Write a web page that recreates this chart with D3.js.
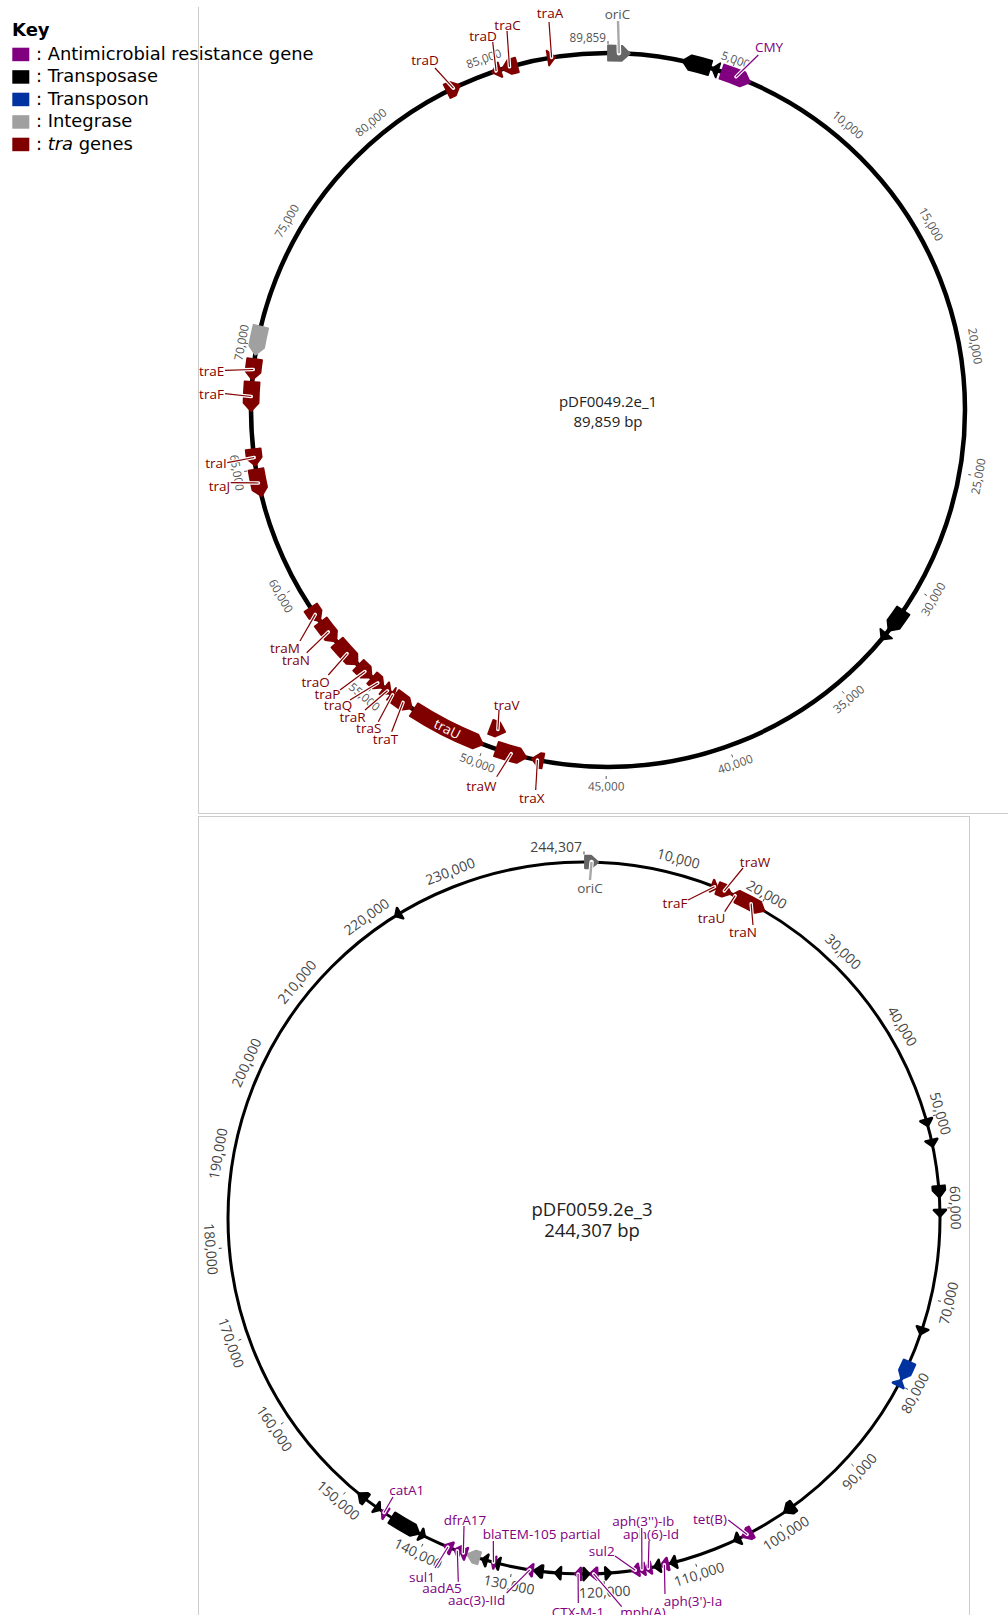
<!DOCTYPE html>
<html><head><meta charset="utf-8">
<script src="https://cdn.jsdelivr.net/npm/d3@7"></script>
<style>body{margin:0;background:#fff;} svg{display:block;}</style>
</head><body>
<svg id="chart" width="1008" height="1615"></svg>
<script>
// ---------------- DATA ----------------
const legendKeys   = ["amr", "tpase", "tn", "int", "tra"];
const legendLabels = ["Antimicrobial resistance gene", "Transposase", "Transposon", "Integrase", "tra genes"];

const plasmid1Name = "pDF0049.2e_1";
const plasmid1Length = 89859;
const plasmid1Ticks = [5000,10000,15000,20000,25000,30000,35000,40000,45000,50000,55000,60000,65000,70000,75000,80000,85000];
// [type, start, end, strand, label]
const plasmid1Features = [
  ["ori",   0,     880,   1, "oriC"],
  ["tpase", 3000,  4150, -1, ""],
  ["tpase", 4230,  4480, -1, ""],
  ["amr",   4640,  5850,  1, "CMY"],
  ["tpase", 31000, 32000, 1, ""],
  ["tpase", 32150, 32450, 1, ""],
  ["tra",   47550, 48000, 1, "traX"],
  ["tra",   48230, 49480, -1, "traW"],
  ["tra",   49350, 50000, -1, "traV"],
  ["tra",   50050, 53150, -1, "traU"],
  ["tra",   53250, 54100, -1, "traT"],
  ["tra",   54130, 54250, -1, "traS"],
  ["tra",   54280, 54620, -1, "traR"],
  ["tra",   54650, 55250, -1, "traQ"],
  ["tra",   55280, 56000, -1, "traP"],
  ["tra",   56050, 57250, -1, "traO"],
  ["tra",   57300, 58300, -1, "traN"],
  ["tra",   58350, 59000, -1, "traM"],
  ["tra",   63900, 65000, -1, "traJ"],
  ["tra",   65150, 65820, -1, "traI"],
  ["tra",   67350, 68520, -1, "traF"],
  ["tra",   68600, 69440, -1, "traE"],
  ["int",   69620, 70770, -1, ""],
  ["tra",   83170, 83740,  1, "traD"],
  ["tra",   85130, 85470, -1, "traD"],
  ["tra",   85550, 86170, -1, "traC"],
  ["tra",   87440, 87740,  1, "traA"]
];

const plasmid2Name = "pDF0059.2e_3";
const plasmid2Length = 244307;
const plasmid2Ticks = [10000,20000,30000,40000,50000,60000,70000,80000,90000,100000,110000,120000,130000,140000,150000,160000,170000,180000,190000,200000,210000,220000,230000];
const plasmid2Features = [
  ["ori",   150,    1500,   1, "oriC"],
  ["tra",   14300,  14900,  1, "traF"],
  ["tra",   15000,  16500,  1, "traW"],
  ["tra",   16800,  17300, -1, "traU"],
  ["tra",   17400,  20600,  1, "traN"],
  ["tpase", 50200,  50900,  1, ""],
  ["tpase", 52500,  53200,  1, ""],
  ["tpase", 57600,  58800,  1, ""],
  ["tpase", 60200,  60900,  1, ""],
  ["tpase", 73300,  74000,  1, ""],
  ["tn",    77300,  79300,  1, ""],
  ["tn",    79500,  80100, -1, ""],
  ["tpase", 97700,  98900,  1, ""],
  ["amr",   103100, 104200, 1, "tet(B)"],
  ["tpase", 104600, 105200, 1, ""],
  ["tpase", 112000, 112600, 1, ""],
  ["amr",   112900, 113700, 1, "aph(3')-Ia"],
  ["tpase", 113800, 114400, 1, ""],
  ["amr",   114800, 115400, 1, "aph(6)-Id"],
  ["amr",   115500, 116100, 1, "aph(3'')-Ib"],
  ["amr",   116150, 116900, 1, "sul2"],
  ["tpase", 119200, 119800, -1, ""],
  ["amr",   120700, 121500, 1, "mph(A)"],
  ["tpase", 121600, 122200, -1, ""],
  ["amr",   122500, 123100, 1, "CTX-M-1"],
  ["tpase", 124700, 125300, 1, ""],
  ["tpase", 126700, 127600, 1, ""],
  ["amr",   127800, 128400, 1, "aac(3)-IId"],
  ["tpase", 131500, 132000, 1, ""],
  ["amr",   132000, 132300, 1, "blaTEM-105 partial"],
  ["tpase", 132900, 133400, 1, ""],
  ["int",   133800, 135100, 1, ""],
  ["amr",   135300, 135900, 1, "dfrA17"],
  ["amr",   136000, 136600, 1, "aadA5"],
  ["amr",   137000, 137800, 1, "sul1"],
  ["tpase", 140200, 140700, -1, ""],
  ["tpase", 140900, 144300, -1, ""],
  ["amr",   145100, 145600, 1, "catA1"],
  ["tpase", 145900, 146400, -1, ""],
  ["tpase", 147800, 148800, 1, ""],
  ["tpase", 222600, 223200, -1, ""]
];

// ---------------- STYLE / LAYOUT ----------------
const colors = {amr:"#800080", tpase:"#000000", tn:"#0033a0", int:"#a0a0a0", tra:"#800000", ori:"#666666"};
const labelColors = {amr:"#800080", tra:"#800000", ori:"#555555", tpase:"#000", tn:"#0033a0", int:"#777"};
const lineColors = {amr:"#800080", tra:"#800000", ori:"#a8a8a8", tpase:"#000", tn:"#0033a0", int:"#777"};

// label layout: [label centre dx, dy, leader end dx, dy] relative to circle centre
const layout1 = {
  "oriC":[9.5,-396.5,10,-389], "CMY":[161,-363,150.3,-355], "traA":[-58,-397,-59,-388],
  "traC":[-100.5,-385.5,-101,-379], "traD":[-183,-350.5,-173,-342], "traD_2":[-125,-374.5,-115.3,-368],
  "traE":[-396.3,-39.5,-383,-39.7], "traF":[-396.5,-16.5,-383,-16.3], "traI":[-392,53,-380.7,52.7],
  "traJ":[-388.5,76,-377.3,72.7], "traM":[-323,237.5,-308,231], "traN":[-312,249.7,-301.3,242.7],
  "traO":[-292.3,272,-279.7,265], "traP":[-280.5,284,-268,280], "traQ":[-270,295,-258,290],
  "traR":[-255.5,306.5,-243,300], "traS":[-239.3,317.5,-229.7,311.7], "traT":[-222.5,328.7,-216.3,321.7],
  "traV":[-101.3,294.5,-109,300], "traW":[-126.7,376,-111.3,366.7], "traX":[-76.3,387.5,-72.3,380],
  "traU":"inside"
};
const layout2 = {
  "oriC":[6,-330,6,-338], "traF":[91,-315,104,-318], "traW":[171,-356.3,159,-350],
  "traU":[127.6,-300,140.7,-306.3], "traN":[159,-286,169,-293], "tet(B)":[126,301,144.3,302],
  "aph(3')-Ia":[109,383,81,376], "aph(6)-Id":[67,316,65,323], "aph(3'')-Ib":[59.3,303,57.7,310],
  "sul2":[17.7,333,31,338], "mph(A)":[59,394,37.7,388.7], "CTX-M-1":[-6,393.5,-5.7,385],
  "aac(3)-IId":[-107.3,382,-77.3,375], "blaTEM-105 partial":[-42.5,316,-90.7,323],
  "dfrA17":[-119,302,-120,308], "aadA5":[-142,370,-125.7,363.7], "sul1":[-162,359,-149,350],
  "catA1":[-177.3,272,-191,279]
};
const innerTrack1 = {"traV": -19};

const cfg1 = {cx:608, cy:410, r:357, stroke:4.5, fw:15, head:8, join:1.8, tickFont:11.7, tickColor:"#555",
  tickIn:9, tickOut:12, labT:16.5, labB:18.5, nameFont:15, nameDx:0, nameDy1:-9.5, nameDy2:11, featFont:13.5};
const cfg2 = {cx:584, cy:1218, r:356, stroke:3, fw:12, head:7, join:2.6, tickFont:14, tickColor:"#444",
  tickIn:7.5, tickOut:10.5, labT:16, labB:18, nameFont:18.5, nameDx:8, nameDy1:-10, nameDy2:11, featFont:13.5};

const FONT = "'Open Sans', 'Noto Sans', sans-serif";
const svg = d3.select("#chart");

// panel borders
svg.append("path").attr("d","M198.5,7 V813.5 H1008").attr("fill","none").attr("stroke","#cccccc").attr("stroke-width",1);
svg.append("rect").attr("x",198.5).attr("y",816.5).attr("width",771).attr("height",830)
  .attr("fill","none").attr("stroke","#cccccc").attr("stroke-width",1);

function drawPlasmid(cfg, len, features, ticks, name, layout, inner) {
  const g = svg.append("g");
  const ang = d3.scaleLinear().domain([0, len]).range([0, 2*Math.PI]);
  const pt = (bp, rad) => { const a = ang(bp); return [cfg.cx + rad*Math.sin(a), cfg.cy - rad*Math.cos(a)]; };
  const fmt = d3.format(",");

  g.append("circle").attr("cx",cfg.cx).attr("cy",cfg.cy).attr("r",cfg.r)
    .attr("fill","none").attr("stroke","#000").attr("stroke-width",cfg.stroke);

  // ticks
  ticks.forEach(t => {
    const deg = ang(t)*180/Math.PI;
    const bottom = deg > 90 && deg < 270;
    const rot = bottom ? deg-180 : (deg >= 270 ? deg-360 : deg);
    const p1 = pt(t, cfg.r+cfg.tickIn), p2 = pt(t, cfg.r+cfg.tickOut);
    g.append("line").attr("x1",p1[0]).attr("y1",p1[1]).attr("x2",p2[0]).attr("y2",p2[1])
      .attr("stroke",cfg.tickColor).attr("stroke-width",1);
    const lp = pt(t, cfg.r + (bottom ? cfg.labB : cfg.labT));
    g.append("text").attr("transform",`translate(${lp[0]},${lp[1]}) rotate(${rot})`)
      .attr("text-anchor","middle").attr("dominant-baseline","central")
      .attr("font-family",FONT).attr("font-size",cfg.tickFont).attr("fill",cfg.tickColor).text(fmt(t));
  });
  // end label
  {
    const p1 = pt(0, cfg.r+cfg.tickIn), p2 = pt(0, cfg.r+cfg.tickOut);
    g.append("line").attr("x1",p1[0]).attr("y1",p1[1]).attr("x2",p2[0]).attr("y2",p2[1])
      .attr("stroke",cfg.tickColor).attr("stroke-width",1);
    const lp = pt(0, cfg.r + cfg.labT);
    g.append("text").attr("x",lp[0]-2).attr("y",lp[1]).attr("text-anchor","end").attr("dominant-baseline","central")
      .attr("font-family",FONT).attr("font-size",cfg.tickFont).attr("fill",cfg.tickColor).text(fmt(len));
  }

  function featPath(s, e, strand, rad) {
    const w = cfg.fw, ro = rad + w/2, ri = rad - w/2;
    const a0 = ang(s), a1 = ang(e), Ha = cfg.head / rad;
    const P = (a, rr) => [cfg.cx + rr*Math.sin(a), cfg.cy - rr*Math.cos(a)];
    if (strand > 0) {
      const hb = Math.max(a0, a1 - Ha);
      const A = P(a0, ro), B = P(hb, ro), T = P(a1, rad), C = P(hb, ri), D = P(a0, ri);
      let d = `M${A}`;
      if (hb > a0) d += ` A${ro},${ro} 0 0 1 ${B}`;
      d += ` L${T} L${C}`;
      if (hb > a0) d += ` A${ri},${ri} 0 0 0 ${D}`;
      return d + " Z";
    } else {
      const hb = Math.min(a1, a0 + Ha);
      const T = P(a0, rad), B = P(hb, ro), A = P(a1, ro), D = P(a1, ri), C = P(hb, ri);
      let d = `M${T} L${B}`;
      if (hb < a1) d += ` A${ro},${ro} 0 0 1 ${A} L${D} A${ri},${ri} 0 0 0 ${C}`;
      else d += ` L${C}`;
      return d + " Z";
    }
  }

  const trackR = f => cfg.r + ((inner && inner[f[4]]) || 0);

  // features
  features.forEach(f => {
    g.append("path").attr("d", featPath(f[1], f[2], f[3], trackR(f)))
      .attr("fill", colors[f[0]]).attr("stroke", colors[f[0]]).attr("stroke-width",cfg.join)
      .attr("stroke-linejoin","round");
  });

  // labels
  const seen = {};
  const labG = g.append("g");
  features.forEach(f => {
    if (!f[4]) return;
    seen[f[4]] = (seen[f[4]] || 0) + 1;
    const key = seen[f[4]] > 1 ? f[4] + "_" + seen[f[4]] : f[4];
    const L = layout[key];
    if (!L) return;
    const mid = (f[1] + f[2]) / 2;
    const rr = trackR(f);
    if (L === "inside") {
      const deg = ang(mid)*180/Math.PI;
      const bottom = deg > 90 && deg < 270;
      const rot = bottom ? deg-180 : (deg >= 270 ? deg-360 : deg);
      const p = pt(mid, rr);
      labG.append("text").attr("transform",`translate(${p[0]},${p[1]}) rotate(${rot})`)
        .attr("text-anchor","middle").attr("dominant-baseline","central")
        .attr("font-family",FONT).attr("font-size",cfg.featFont).attr("fill","#fff").text(f[4]);
      return;
    }
    const s = pt(mid, rr);
    const ex = cfg.cx + L[2], ey = cfg.cy + L[3];
    const lc = lineColors[f[0]];
    labG.append("line").attr("x1",s[0]).attr("y1",s[1]).attr("x2",ex).attr("y2",ey)
      .attr("stroke","#fff").attr("stroke-width", f[0]==="ori" ? 4.5 : 3.5).attr("stroke-linecap","round");
    labG.append("line").attr("x1",s[0]).attr("y1",s[1]).attr("x2",ex).attr("y2",ey)
      .attr("stroke",lc).attr("stroke-width", f[0]==="ori" ? 2.4 : 1.2);
    labG.append("text").attr("x",cfg.cx + L[0]).attr("y",cfg.cy + L[1])
      .attr("text-anchor","middle").attr("dominant-baseline","central")
      .attr("font-family",FONT).attr("font-size",cfg.featFont).attr("fill",labelColors[f[0]]).text(f[4]);
  });

  // name
  g.append("text").attr("x",cfg.cx+cfg.nameDx).attr("y",cfg.cy+cfg.nameDy1).attr("text-anchor","middle")
    .attr("dominant-baseline","central").attr("font-family",FONT).attr("font-size",cfg.nameFont).attr("fill","#222").text(name);
  g.append("text").attr("x",cfg.cx+cfg.nameDx).attr("y",cfg.cy+cfg.nameDy2).attr("text-anchor","middle")
    .attr("dominant-baseline","central").attr("font-family",FONT).attr("font-size",cfg.nameFont).attr("fill","#222").text(fmt(len) + " bp");
}

drawPlasmid(cfg1, plasmid1Length, plasmid1Features, plasmid1Ticks, plasmid1Name, layout1, innerTrack1);
drawPlasmid(cfg2, plasmid2Length, plasmid2Features, plasmid2Ticks, plasmid2Name, layout2, null);

// legend
const LF = "'DejaVu Sans', Verdana, sans-serif";
const lg = svg.append("g");
lg.append("text").attr("x",12).attr("y",36).attr("font-family",LF).attr("font-weight","bold")
  .attr("font-size",18).attr("fill","#000").text("Key");
legendKeys.forEach((k, i) => {
  const y0 = 47.7 + i*22.5;
  lg.append("rect").attr("x",12.3).attr("y",y0).attr("width",17).attr("height",13.5).attr("fill",colors[k]);
  const t = lg.append("text").attr("x",36).attr("y",y0+11.8).attr("font-family",LF).attr("font-size",17.9).attr("fill","#000");
  if (k === "tra") {
    t.append("tspan").text(": ");
    t.append("tspan").attr("font-style","italic").text("tra");
    t.append("tspan").text(" genes");
  } else {
    t.text(": " + legendLabels[i]);
  }
});
</script>
</body></html>
